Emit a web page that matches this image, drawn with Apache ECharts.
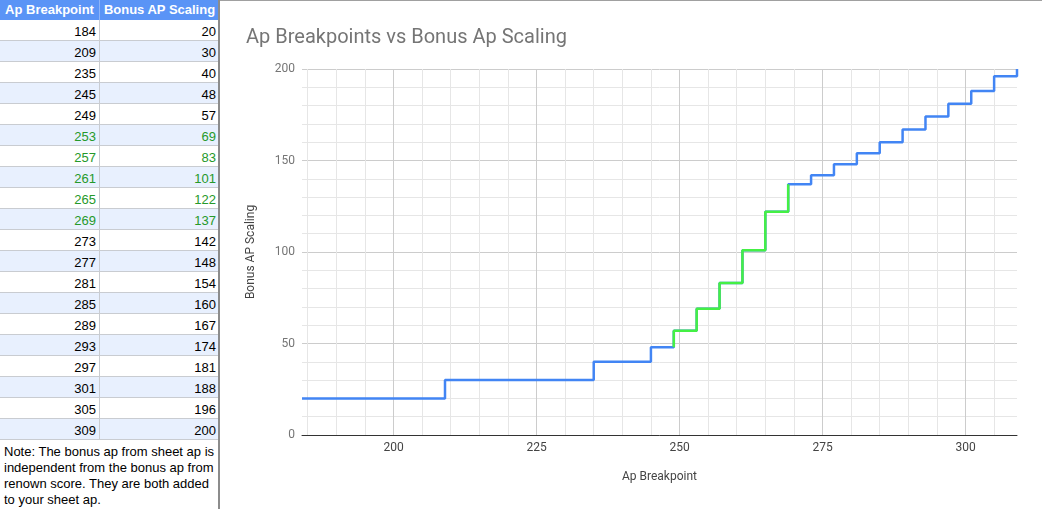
<!DOCTYPE html>
<html>
<head>
<meta charset="utf-8">
<script src="https://cdn.jsdelivr.net/npm/echarts@6/dist/echarts.min.js"></script>
<style>
  html, body { margin: 0; padding: 0; width: 1042px; height: 509px; overflow: hidden; background: #fff; }
  #chart { position: absolute; left: 0; top: 0; width: 1042px; height: 509px; }
  #topline { position: absolute; left: 220px; top: 0; width: 822px; height: 1px; background: #a0a0a0; }
  #sheet { position: absolute; left: 0; top: 0; width: 218px; height: 509px; background: #fff;
           border-right: 2px solid #8c8c8c; font-family: "Liberation Sans", Arial, sans-serif; font-size: 13px; color: #000; }
  .row { position: absolute; left: 0; width: 218px; height: 20px; border-bottom: 1px solid #c9ccd1; }
  .cell { position: absolute; top: 0; height: 20px; line-height: 24px; text-align: right; box-sizing: border-box; }
  .c0 { left: 0; width: 100px; padding-right: 3px; border-right: 1px solid #c9ccd1; }
  .c1 { left: 101px; width: 117px; padding-right: 2px; }
  .hdr { background: #5a94f6; color: #fff; font-weight: bold; border-bottom: none; }
  .hdr .cell { text-align: center; padding: 0; line-height: 20px; border-right-color: #8db4f8; }
  .alt { background: #e8f0fe; }
  .green { color: #25992a; }
  #note { position: absolute; left: 4px; top: 444px; width: 214px; line-height: 16px; }
</style>
</head>
<body>
<div id="chart"></div>
<div id="topline"></div>
<div id="sheet"></div>
<script>
// ---- data ----
const headers = ['Ap Breakpoint', 'Bonus AP Scaling'];
const apBreakpoints = [184, 209, 235, 245, 249, 253, 257, 261, 265, 269, 273, 277, 281, 285, 289, 293, 297, 301, 305, 309];
const bonusScaling  = [20, 30, 40, 48, 57, 69, 83, 101, 122, 137, 142, 148, 154, 160, 167, 174, 181, 188, 196, 200];
const greenRows = [253, 257, 261, 265, 269];          // breakpoints shown in green in the table
const greenLineFromIdx = 4;                           // green step starts at the riser of 249
const greenLineToIdx = 9;                             // ...and ends at the riser of 269
const xTickLabels = [200, 225, 250, 275, 300];
const yTickLabels = [0, 50, 100, 150, 200];
const noteLines = ['Note: The bonus ap from sheet ap is', 'independent from the bonus ap from', 'renown score. They are both added', 'to your sheet ap.'];
const chartTitle = 'Ap Breakpoints vs Bonus Ap Scaling';
const xName = 'Ap Breakpoint';
const yName = 'Bonus AP Scaling';

// ---- sheet table ----
const sheet = document.getElementById('sheet');
let html = '<div class="row hdr" style="top:0"><div class="cell c0">' + headers[0] + '</div><div class="cell c1">' + headers[1] + '</div></div>';
apBreakpoints.forEach((ap, i) => {
  const top = 20 + 21 * i;
  const cls = 'row' + (i % 2 === 1 ? ' alt' : '') + (greenRows.includes(ap) ? ' green' : '');
  html += '<div class="' + cls + '" style="top:' + top + 'px"><div class="cell c0">' + ap + '</div><div class="cell c1">' + bonusScaling[i] + '</div></div>';
});
html += '<div id="note">' + noteLines.join('<br>') + '</div>';
sheet.innerHTML = html;

// ---- chart ----
const mainData = apBreakpoints.map((x, i) => [x, bonusScaling[i]]);
const greenData = [[apBreakpoints[greenLineFromIdx], bonusScaling[greenLineFromIdx - 1]]];
for (let i = greenLineFromIdx; i <= greenLineToIdx; i++) greenData.push([apBreakpoints[i], bonusScaling[i]]);

const xMin = apBreakpoints[0], xMax = apBreakpoints[apBreakpoints.length - 1];
// vertical grid: unit ticks, colour chosen per value (minor every 5, major at labelled values)
const xLineColors = [];
for (let v = xMin; v < xMin + 25; v++) {
  if (v % 25 === xTickLabels[0] % 25) xLineColors.push('#cccccc');
  else if (v % 5 === 0) xLineColors.push('#e6e6e6');
  else xLineColors.push('rgba(0,0,0,0)');
}

const chart = echarts.init(document.getElementById('chart'), null, { renderer: 'canvas' });
chart.setOption({
  animation: false,
  textStyle: { fontFamily: 'Roboto, sans-serif' },
  title: {
    text: chartTitle, left: 241, top: 23,
    textStyle: { fontFamily: 'Roboto, sans-serif', fontSize: 20, fontWeight: 'normal', color: '#757575' }
  },
  grid: { left: 302, right: 25, top: 69, bottom: 74, containLabel: false },
  xAxis: {
    type: 'value', min: xMin, max: xMax, interval: 1,
    name: xName, nameLocation: 'middle', nameGap: 36,
    nameTextStyle: { fontSize: 12, color: '#444', fontFamily: 'Roboto, sans-serif' },
    axisLine: { show: true, onZero: false, lineStyle: { color: '#333', width: 1 } },
    axisTick: { show: false },
    axisLabel: {
      color: '#444', fontSize: 12, margin: 7, fontFamily: 'Roboto, sans-serif',
      formatter: v => xTickLabels.includes(v) ? String(v) : ''
    },
    splitLine: { show: true, lineStyle: { color: xLineColors, width: 1 } }
  },
  yAxis: {
    type: 'value', min: yTickLabels[0], max: yTickLabels[yTickLabels.length - 1], interval: 50,
    name: yName, nameLocation: 'middle', nameGap: 45, nameRotate: 90,
    nameTextStyle: { fontSize: 12, color: '#444', fontFamily: 'Roboto, sans-serif' },
    axisLine: { show: false }, axisTick: { show: false },
    axisLabel: { color: '#757575', fontSize: 12, margin: 7, fontFamily: 'Roboto, sans-serif' },
    splitLine: { show: true, lineStyle: { color: '#cccccc', width: 1 } },
    minorTick: { show: false, splitNumber: 5 },
    minorSplitLine: { show: true, lineStyle: { color: '#e6e6e6', width: 1 } }
  },
  series: [
    {
      type: 'line', step: 'end', data: mainData, showSymbol: false, symbol: 'none', z: 3,
      lineStyle: { color: '#4285f4', width: 2.5 }, itemStyle: { color: '#4285f4' }
    },
    {
      type: 'line', step: 'end', data: greenData, showSymbol: false, symbol: 'none', z: 4,
      lineStyle: { color: '#44f044', width: 2.5 }, itemStyle: { color: '#44f044' }
    }
  ]
});
</script>
</body>
</html>
